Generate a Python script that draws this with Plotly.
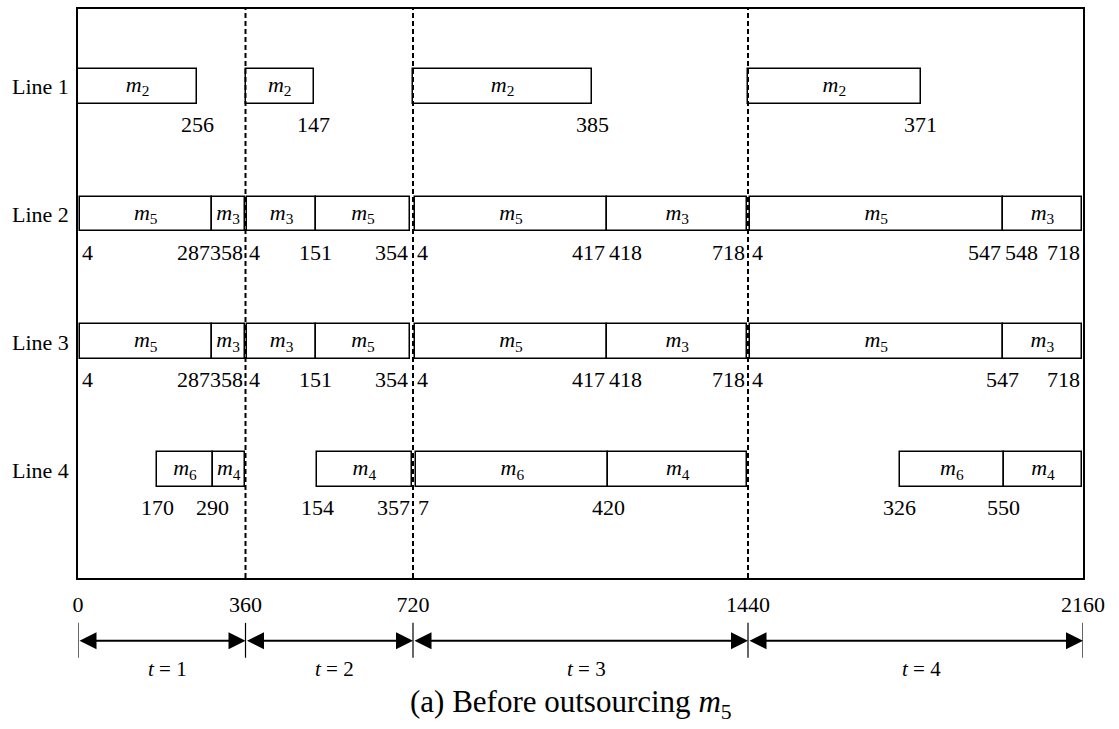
import plotly.graph_objects as go

# ---------------- data ----------------
period_starts = [0, 360, 720, 1440]
boundaries = [0, 360, 720, 1440, 2160]
row_names = ["Line 1", "Line 2", "Line 3", "Line 4"]

# bars: (row, period, start, end, machine)
bar_rows = [1, 1, 1, 1,
            2, 2, 2, 2, 2, 2, 2, 2,
            3, 3, 3, 3, 3, 3, 3, 3,
            4, 4, 4, 4, 4, 4, 4]
bar_periods = [1, 2, 3, 4,
               1, 1, 2, 2, 3, 3, 4, 4,
               1, 1, 2, 2, 3, 3, 4, 4,
               1, 1, 2, 3, 3, 4, 4]
bar_starts = [0, 0, 0, 0,
              4, 287, 4, 151, 4, 418, 4, 548,
              4, 287, 4, 151, 4, 418, 4, 547,
              170, 290, 154, 7, 420, 326, 550]
bar_ends = [256, 147, 385, 371,
            287, 358, 151, 354, 417, 718, 547, 718,
            287, 358, 151, 354, 417, 718, 547, 718,
            290, 358, 357, 420, 718, 550, 718]
bar_machines = [2, 2, 2, 2,
                5, 3, 3, 5, 5, 3, 5, 3,
                5, 3, 3, 5, 5, 3, 5, 3,
                6, 4, 4, 6, 4, 6, 4]

# time labels: (row, period, value, alignment)
lab_rows = [1, 1, 1, 1,
            2, 2, 2, 2, 2, 2, 2, 2, 2, 2, 2, 2, 2, 2,
            3, 3, 3, 3, 3, 3, 3, 3, 3, 3, 3, 3, 3,
            4, 4, 4, 4, 4, 4, 4, 4]
lab_periods = [1, 2, 3, 4,
               1, 1, 1, 2, 2, 2, 3, 3, 3, 3, 4, 4, 4, 4,
               1, 1, 1, 2, 2, 2, 3, 3, 3, 3, 4, 4, 4,
               1, 1, 2, 2, 3, 3, 4, 4]
lab_values = [256, 147, 385, 371,
              4, 287, 358, 4, 151, 354, 4, 417, 418, 718, 4, 547, 548, 718,
              4, 287, 358, 4, 151, 354, 4, 417, 418, 718, 4, 547, 718,
              170, 290, 154, 357, 7, 420, 326, 550]
lab_align = ["center", "center", "center", "center",
             "left", "right", "right", "left", "center", "right", "left", "right", "left", "right",
             "left", "right", "left", "right",
             "left", "right", "right", "left", "center", "right", "left", "right", "left", "right",
             "left", "center", "right",
             "center", "center", "center", "right", "left", "center", "center", "center"]

period_labels = ["<i>t</i> = 1", "<i>t</i> = 2", "<i>t</i> = 3", "<i>t</i> = 4"]
caption = "(a) Before outsourcing <i>m</i><sub>5</sub>"

# ---------------- figure ----------------
FONT = "Liberation Serif, Times New Roman, serif"
fig = go.Figure()

abs_start = [period_starts[p - 1] + s for p, s in zip(bar_periods, bar_starts)]
abs_end = [period_starts[p - 1] + e for p, e in zip(bar_periods, bar_ends)]
durations = [e - s for s, e in zip(abs_start, abs_end)]

fig.add_trace(go.Bar(
    orientation="h", base=abs_start, x=durations, y=bar_rows, width=0.273,
    marker=dict(color="white", line=dict(color="black", width=1.5)),
    hoverinfo="skip", showlegend=False))

fig.add_trace(go.Scatter(
    x=[(s + e) / 2 for s, e in zip(abs_start, abs_end)], y=bar_rows,
    mode="text", text=[f"<i>m</i><sub>{m}</sub>" for m in bar_machines],
    textposition="middle center",
    textfont=dict(family=FONT, size=22, color="black"),
    hoverinfo="skip", showlegend=False))

annotations = []
for r, p, v, a in zip(lab_rows, lab_periods, lab_values, lab_align):
    annotations.append(dict(
        x=period_starts[p - 1] + v, y=r, xref="x", yref="y", text=str(v),
        showarrow=False, xanchor=a, yanchor="middle", yshift=-38,
        font=dict(family=FONT, size=22, color="black")))

# paper mapping helpers (plot area 571 px tall, bottom at 578 px)
PH = 571.0
def py(pixel_y):
    return (578.0 - pixel_y) / PH

shapes = []
# dashed period separators
for b in boundaries[1:-1]:
    shapes.append(dict(type="line", xref="x", yref="paper", x0=b, x1=b, y0=0, y1=1,
                       line=dict(color="black", width=2, dash="5px,3px")))
# ticks below axis for period arrows
for b in boundaries:
    shapes.append(dict(type="line", xref="x", yref="paper", x0=b, x1=b,
                       y0=py(623), y1=py(658), line=dict(color="black", width=1.2)))

# double arrows
for i in range(len(boundaries) - 1):
    annotations.append(dict(
        x=boundaries[i + 1], y=py(641), xref="x", yref="paper",
        ax=boundaries[i], ay=0, axref="x", ayref="pixel",
        text="", showarrow=True, arrowhead=2, arrowside="end+start",
        arrowsize=1.7, arrowwidth=2, arrowcolor="black", standoff=0, startstandoff=0))
    annotations.append(dict(
        x=(boundaries[i] + boundaries[i + 1]) / 2 + 12, y=py(669), xref="x", yref="paper",
        text=period_labels[i], showarrow=False, xanchor="center", yanchor="middle",
        font=dict(family=FONT, size=21, color="black")))

annotations.append(dict(
    x=(571 - 78) / 1005.0, y=py(704), xref="paper", yref="paper", text=caption,
    showarrow=False, xanchor="center", yanchor="middle",
    font=dict(family=FONT, size=31, color="black")))

fig.update_layout(
    width=1119, height=729,
    margin=dict(l=78, r=36, t=7, b=151),
    paper_bgcolor="white", plot_bgcolor="white",
    barmode="overlay", bargap=0,
    shapes=shapes, annotations=annotations,
    xaxis=dict(range=[0, 2160], tickvals=boundaries, ticktext=[str(b) for b in boundaries],
               showgrid=False, zeroline=False, showline=True, linecolor="black", linewidth=1.5,
               mirror=True, ticks="", ticklabelstandoff=6,
               tickfont=dict(family=FONT, size=22, color="black"), fixedrange=True),
    yaxis=dict(range=[4.846, 0.397], tickvals=[1, 2, 3, 4], ticktext=row_names,
               showgrid=False, zeroline=False, showline=True, linecolor="black", linewidth=1.5,
               mirror=True, ticks="", ticklabelstandoff=3,
               tickfont=dict(family=FONT, size=22, color="black"), fixedrange=True),
)

fig.write_html("out.html")
